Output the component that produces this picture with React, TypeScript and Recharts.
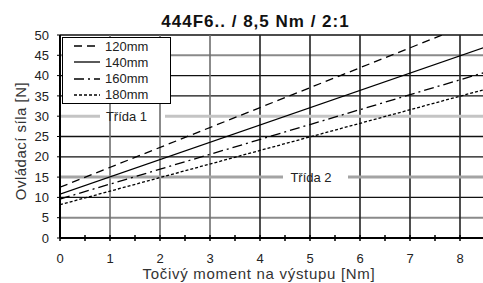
import React from "react"
import { LineChart, Line, XAxis, YAxis, ReferenceLine, ReferenceDot } from "recharts"

// torque [Nm] -> actuating force [N]
const torque = [0, 8.5]
const force120 = [12.5, 54.2]
const force140 = [10.8, 47.0]
const force160 = [9.6, 40.8]
const force180 = [8.2, 36.6]

const seriesNames = ["120mm", "140mm", "160mm", "180mm"]
const yTicks = [0, 5, 10, 15, 20, 25, 30, 35, 40, 45, 50]
const xTicks = [0, 0.5, 1, 1.5, 2, 2.5, 3, 3.5, 4, 4.5, 5, 5.5, 6, 6.5, 7, 7.5, 8, 8.5]
const gridX = [1, 2, 3, 4, 5, 6, 7, 8]
const gridYBlack = [10, 20, 25, 35, 40]
const gridYGray = [5, 45]
const classLabels = ["Třída 1", "Třída 2"]

const data = torque.map((t, i) => ({
  t,
  s120: force120[i],
  s140: force140[i],
  s160: force160[i],
  s180: force180[i],
}))

const dashes = ["8 5", undefined, "10 4 2 4", "3 2"]
const keys = ["s120", "s140", "s160", "s180"]
const font = "'Liberation Sans', Arial, sans-serif"

const XTick = (props: any) => {
  const { x, y, payload } = props
  const v = payload.value
  const isInt = Number.isInteger(v)
  return (
    <g>
      <line x1={x} x2={x} y1={y - 3} y2={y + 3} stroke="#000" strokeWidth={1.5} />
      {isInt && (
        <text x={x} y={y + 25} textAnchor="middle" fontSize={13} fill="#222" fontFamily={font}>
          {v}
        </text>
      )}
    </g>
  )
}

export default function App() {
  return (
    <div style={{ position: "absolute", left: 0, top: 0, width: 483, height: 283, overflow: "hidden", background: "#fff", fontFamily: font }}>
      <LineChart width={485} height={283} data={data} margin={{ top: 35, right: 0, bottom: 0, left: 0 }}>
        <XAxis
          dataKey="t"
          type="number"
          domain={[0, 8.5]}
          ticks={xTicks}
          interval={0}
          allowDataOverflow
          tickSize={0}
          tickMargin={0}
          tick={<XTick />}
          axisLine={{ stroke: "#000", strokeWidth: 2 }}
          height={45}
        />
        <YAxis
          type="number"
          domain={[0, 50]}
          ticks={yTicks}
          interval={0}
          allowDataOverflow
          width={60}
          tickSize={3}
          tickMargin={8}
          tickLine={{ stroke: "#000" }}
          axisLine={{ stroke: "#000", strokeWidth: 2 }}
          tick={{ fontSize: 13, fill: "#222", fontFamily: font }}
        />
        {gridYGray.map((v) => (
          <ReferenceLine key={"g" + v} y={v} stroke="#8a8a8a" strokeWidth={2} />
        ))}
        {gridYBlack.map((v) => (
          <ReferenceLine key={"b" + v} y={v} stroke="#111" strokeWidth={1.3} />
        ))}
        <ReferenceLine y={50} stroke="#111" strokeWidth={1.5} />
        {gridX.map((v) => (
          <ReferenceLine key={"x" + v} x={v} stroke={v <= 3 ? "#6e6e6e" : "#222"} strokeWidth={1.6} />
        ))}
        <ReferenceLine segment={[{ x: 0, y: 30 }, { x: 0.8, y: 30 }]} stroke="#c4c4c4" strokeWidth={3} />
        <ReferenceLine segment={[{ x: 2.1, y: 30 }, { x: 8.5, y: 30 }]} stroke="#c4c4c4" strokeWidth={3} />
        <ReferenceLine segment={[{ x: 0, y: 15 }, { x: 4.46, y: 15 }]} stroke="#a4a4a4" strokeWidth={3} />
        <ReferenceLine segment={[{ x: 5.76, y: 15 }, { x: 8.5, y: 15 }]} stroke="#a4a4a4" strokeWidth={3} />
        <ReferenceDot x={1.33} y={30} r={0} stroke="none" fill="none"
          label={{ value: classLabels[0], position: "center", fontSize: 13, fill: "#222", fontFamily: font }} />
        <ReferenceDot x={5.02} y={15} r={0} stroke="none" fill="none"
          label={{ value: classLabels[1], position: "center", fontSize: 13, fill: "#222", fontFamily: font }} />
        {keys.map((k, i) => (
          <Line
            key={k}
            dataKey={k}
            name={seriesNames[i]}
            type="linear"
            stroke="#000"
            strokeWidth={1.3}
            strokeDasharray={dashes[i]}
            dot={false}
            activeDot={false}
            isAnimationActive={false}
          />
        ))}
      </LineChart>

      <div style={{ position: "absolute", left: 0, top: 12, width: 511, textAlign: "center", fontWeight: "bold", fontSize: 17, letterSpacing: 1, color: "#111" }}>
        444F6.. / 8,5 Nm / 2:1
      </div>

      <div style={{ position: "absolute", left: 0, top: 265, width: 518, textAlign: "center", fontSize: 15, letterSpacing: 0.7, color: "#333" }}>
        Točivý moment na výstupu [Nm]
      </div>

      <div style={{ position: "absolute", left: 21, top: 141, width: 0, height: 0 }}>
        <div style={{ position: "absolute", left: -100, top: -10, width: 200, textAlign: "center", fontSize: 15, letterSpacing: 0.5, color: "#333", transform: "rotate(-90deg)", whiteSpace: "nowrap", lineHeight: "20px" }}>
          Ovládací síla [N]
        </div>
      </div>

      <div style={{ position: "absolute", left: 62, top: 37, width: 107, height: 65, background: "#fff", border: "1px solid #000" }}>
        {seriesNames.map((n, i) => (
          <div key={n} style={{ height: 16.25, display: "flex", alignItems: "center", fontSize: 13, color: "#222" }}>
            <svg width={42} height={10} style={{ flex: "none" }}>
              <line x1={11} x2={37} y1={5} y2={5} stroke="#000" strokeWidth={1.3} strokeDasharray={dashes[i]} />
            </svg>
            <span>{n}</span>
          </div>
        ))}
      </div>
    </div>
  )
}
